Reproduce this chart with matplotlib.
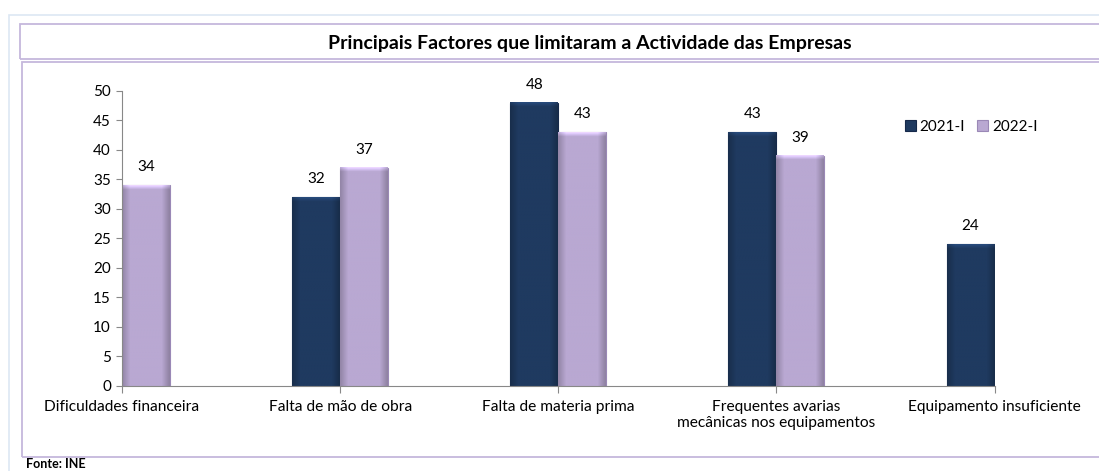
import matplotlib.pyplot as plt
from matplotlib.patches import Rectangle
from matplotlib.colors import to_rgb
import numpy as np

plt.rcParams["font.family"] = ["Lato", "DejaVu Sans"]

categories = [
    "Dificuldades financeira",
    "Falta de mão de obra",
    "Falta de materia prima",
    "Frequentes avarias\nmecânicas nos equipamentos",
    "Equipamento insuficiente",
]
v2021 = [np.nan, 32, 48, 43, 24]
v2022 = [34, 37, 43, 39, np.nan]
series_names = ["2021-I", "2022-I"]
title = "Principais Factores que limitaram a Actividade das Empresas"

navy = "#1f3a60"
lilac = "#b9a8d2"

fig = plt.figure(figsize=(10.99, 4.71), dpi=100)

# frames (outer, title box, plot box)
fig.patches.append(Rectangle((0.0082, -0.05), 1.1, 1.018, transform=fig.transFigure,
                             fill=False, edgecolor="#dde8f3", lw=1.2))
fig.patches.append(Rectangle((0.0182, 0.8747), 1.1, 0.0743, transform=fig.transFigure,
                             fill=False, edgecolor="#c5b8dc", lw=1.3))
fig.patches.append(Rectangle((0.0200, 0.0297), 1.1, 0.838, transform=fig.transFigure,
                             fill=False, edgecolor="#c5b8dc", lw=1.3))
fig.text(0.537, 0.908, title, ha="center", va="center", fontsize=14, fontweight="bold")
fig.text(0.024, 0.014, "Fonte: INE", ha="left", va="center", fontsize=9, fontweight="bold")

ax = fig.add_axes([0.111, 0.1805, 0.794, 0.6265])
x = np.arange(len(categories))
w = 0.22
b1 = ax.bar(x - w / 2, v2021, w, color=navy, edgecolor="#16294a", lw=0.8, label=series_names[0])
b2 = ax.bar(x + w / 2, v2022, w, color=lilac, edgecolor="#9a88b6", lw=0.8, label=series_names[1])

# bevel-like shading over each bar
prof = np.concatenate([np.linspace(0.8, 1.0, 6), np.ones(20), np.linspace(1.0, 0.78, 6)])
for bars, col in ((b1, navy), (b2, lilac)):
    c = np.array(to_rgb(col))
    for rect in bars:
        h = rect.get_height()
        if np.isnan(h):
            continue
        n = int(round(h * 10))
        img = np.tile(prof[None, :, None] * c[None, None, :], (n, 1, 1))
        top = np.linspace(1.3, 1.0, 8)
        img[:8] = np.clip(img[:8] * top[:, None, None], 0, 1)
        ax.imshow(img, extent=(rect.get_x(), rect.get_x() + rect.get_width(), 0, h),
                  aspect="auto", zorder=1.5, interpolation="bilinear")

for bars, vals in ((b1, v2021), (b2, v2022)):
    for rect, v in zip(bars, vals):
        if np.isnan(v):
            continue
        ax.annotate(f"{v:.0f}", (rect.get_x() + rect.get_width() / 2, v),
                    xytext=(0, 8), textcoords="offset points",
                    ha="center", va="bottom", fontsize=11)

ax.set_xlim(0, len(categories) - 1)
ax.set_ylim(0, 50)
ax.set_aspect("auto")
ax.set_yticks(np.arange(0, 51, 5))
ax.set_xticks(x)
ax.set_xticklabels(categories, fontsize=11.2)
ax.tick_params(axis="y", labelsize=11, length=4, color="#888888", pad=4)
ax.tick_params(axis="x", length=5, color="#888888", pad=5)
for s in ("top", "right"):
    ax.spines[s].set_visible(False)
for s in ("left", "bottom"):
    ax.spines[s].set_color("#888888")
    ax.spines[s].set_zorder(3)
ax.patch.set_alpha(0)

fig.legend(loc="center left", bbox_to_anchor=(0.818, 0.730), ncol=2, frameon=False,
           handlelength=0.7, handleheight=0.7, handletextpad=0.25, columnspacing=0.8,
           fontsize=11, borderaxespad=0)

fig.savefig("out.png", dpi=100)
